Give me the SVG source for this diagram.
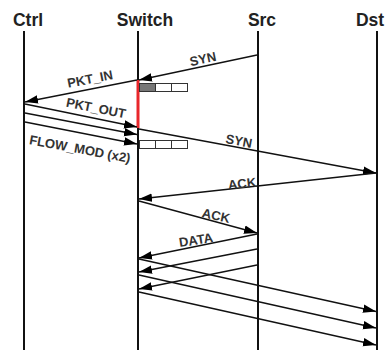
<svg xmlns="http://www.w3.org/2000/svg" width="386" height="350" viewBox="0 0 386 350">
<style>
.title{font-family:"Liberation Sans",Arial,sans-serif;font-weight:bold;font-size:17.5px;fill:#222;text-anchor:middle}
.lbl{font-family:"Liberation Sans",Arial,sans-serif;font-weight:bold;font-size:13px;fill:#333;text-anchor:middle;dominant-baseline:central}
.life{stroke:#111;stroke-width:2;fill:none}
.msg{stroke:#111;stroke-width:1.3;fill:none;marker-end:url(#ah)}
.cell{fill:#fff;stroke:#333;stroke-width:1}
</style>
<defs>
<marker id="ah" markerUnits="userSpaceOnUse" markerWidth="14" markerHeight="10" viewBox="0 0 14 10" refX="13" refY="5" orient="auto">
<path d="M0,0.8 L13,5 L0,9.2 z" fill="#000"/>
</marker>
</defs>
<rect width="386" height="350" fill="#fff"/>
<g id="ctrl"><text class="title" x="28" y="26">Ctrl</text><line class="life" x1="24" y1="31" x2="24" y2="350"/></g>
<g id="switch"><text class="title" x="145" y="26">Switch</text><line class="life" x1="138" y1="31" x2="138" y2="350"/>
<line x1="138" y1="80" x2="138" y2="128" stroke="#e8262b" stroke-width="3"/>
<g id="buffer1"><rect class="cell" x="139.5" y="83.5" width="16" height="8" style="fill:#777"/><rect class="cell" x="155.5" y="83.5" width="16" height="8"/><rect class="cell" x="171.5" y="83.5" width="16" height="8"/></g>
<g id="buffer2"><rect class="cell" x="139.5" y="140.5" width="16" height="8"/><rect class="cell" x="155.5" y="140.5" width="16" height="8"/><rect class="cell" x="171.5" y="140.5" width="16" height="8"/></g>
</g>
<g id="src"><text class="title" x="262" y="26">Src</text><line class="life" x1="258" y1="31" x2="258" y2="350"/></g>
<g id="dst"><text class="title" x="370" y="26">Dst</text><line class="life" x1="377" y1="31" x2="377" y2="350"/></g>
<g id="connectors">
<line class="msg" x1="257" y1="55" x2="139" y2="80"/>
<line class="msg" x1="137" y1="80" x2="25" y2="102"/>
<line class="msg" x1="25" y1="104" x2="137" y2="127"/>
<line class="msg" x1="25" y1="113" x2="137" y2="134.5"/>
<line class="msg" x1="25" y1="122" x2="137" y2="144"/>
<line class="msg" x1="139" y1="129" x2="376" y2="173"/>
<line class="msg" x1="376" y1="173" x2="139" y2="199"/>
<line class="msg" x1="139" y1="201" x2="257" y2="233"/>
<line class="msg" x1="257" y1="234" x2="139" y2="258"/>
<line class="msg" x1="257" y1="249" x2="139" y2="272"/>
<line class="msg" x1="257" y1="265" x2="139" y2="289"/>
<line class="msg" x1="139" y1="259" x2="376" y2="311.5"/>
<line class="msg" x1="139" y1="275" x2="376" y2="328"/>
<line class="msg" x1="139" y1="292" x2="376" y2="345"/>
<text class="lbl" transform="translate(203,59) rotate(-11.8)">SYN</text>
<text class="lbl" transform="translate(90,79) rotate(-10.9)">PKT_IN</text>
<text class="lbl" transform="translate(96,108) rotate(11.4)">PKT_OUT</text>
<text class="lbl" transform="translate(80,149) rotate(10.5)">FLOW_MOD (x2)</text>
<text class="lbl" transform="translate(239,141) rotate(10.4)">SYN</text>
<text class="lbl" transform="translate(242,183.5) rotate(-6.2)">ACK</text>
<text class="lbl" transform="translate(216,215.5) rotate(12)">ACK</text>
<text class="lbl" transform="translate(196,240) rotate(-9)">DATA</text>
</g>
</svg>
